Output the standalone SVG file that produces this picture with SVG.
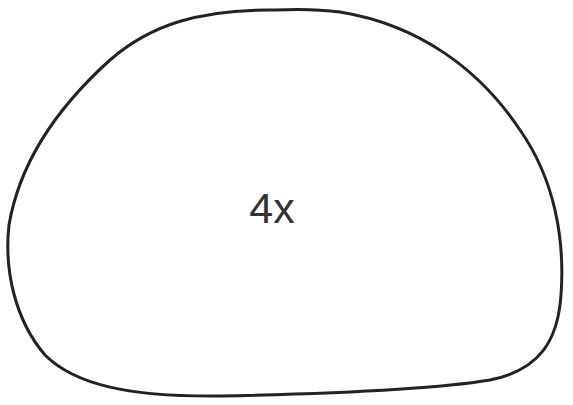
<svg xmlns="http://www.w3.org/2000/svg" width="573" height="405" viewBox="0 0 573 405">
<style>
.blob{fill:#fff;stroke:#222;stroke-width:3;stroke-linejoin:round}
.lbl{font-family:"Liberation Sans",Arial,sans-serif;font-size:43px;fill:#333;text-anchor:middle}
</style>
<rect width="573" height="405" fill="#fff"/>
<g id="node-4x">
<path class="blob" d="M275,10 C200,9 150,25 110,60 C60,105 20,160 9,225 C4,270 15,320 45,355 C75,385 130,397 220,396 C320,394 430,390 490,380 C540,370 558,340 561,295 C565,240 555,180 520,130 C480,70 420,25 340,12 C318,9 295,9 275,10 Z"/>
<text class="lbl" x="272" y="223">4x</text>
</g>
</svg>
